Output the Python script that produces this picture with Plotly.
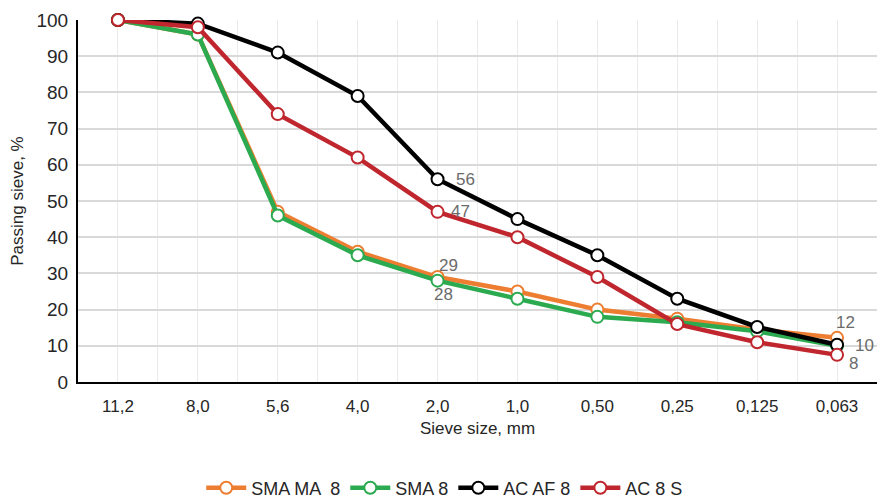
import plotly.graph_objects as go

categories = ["11,2", "8,0", "5,6", "4,0", "2,0", "1,0", "0,50", "0,25", "0,125", "0,063"]
sma_ma_8 = [100, 96, 47, 36, 29, 25, 20, 17.5, 14.5, 12.2]
sma_8 = [100, 96, 46, 35, 28, 23, 18, 16.5, 14, 10]
ac_af_8 = [100, 99, 91, 79, 56, 45, 35, 23, 15.2, 10.3]
ac_8_s = [100, 98, 74, 62, 47, 40, 29, 16, 11, 7.5]

# which points carry a data label (series name -> point indices)
labelled = {
    "SMA MA  8": [4, 9],
    "SMA 8": [4],
    "AC AF 8": [4, 9],
    "AC 8 S": [4, 9],
}
# label offsets in pixels (style only)
label_shift = {
    ("SMA MA  8", 4): (11, 12), ("SMA MA  8", 9): (8, 15),
    ("SMA 8", 4): (6, -14),
    ("AC AF 8", 4): (28, 0), ("AC AF 8", 9): (27, -1),
    ("AC 8 S", 4): (23, 0), ("AC 8 S", 9): (16, -9),
}

x = list(range(len(categories)))
FONT = "Liberation Sans, Arial, sans-serif"

series = [
    ("SMA MA  8", sma_ma_8, "#ED7D31"),
    ("SMA 8", sma_8, "#2BAA4F"),
    ("AC AF 8", ac_af_8, "#000000"),
    ("AC 8 S", ac_8_s, "#C0262D"),
]

fig = go.Figure()
annotations = []
for name, vals, col in series:
    fig.add_trace(go.Scatter(
        x=x, y=vals, name=name, mode="lines+markers",
        line=dict(color=col, width=4.5),
        marker=dict(symbol="circle", size=12, color="white",
                    line=dict(color=col, width=2)),
        cliponaxis=False,
    ))
    for i in labelled[name]:
        dx, dy = label_shift[(name, i)]
        annotations.append(dict(
            x=x[i], y=vals[i], xref="x", yref="y", text=f"{round(vals[i])}",
            showarrow=False, xshift=dx, yshift=dy,
            font=dict(family=FONT, size=17, color="#6b6b6b"),
        ))

# The page body has an 8px margin, so offsets below compensate for it.
fig.update_layout(
    width=888, height=499,
    margin=dict(l=70, r=19, t=12, b=125, autoexpand=False),
    paper_bgcolor="white", plot_bgcolor="white",
    font=dict(family=FONT, size=16, color="#262626"),
    showlegend=True,
    annotations=annotations,
    legend=dict(orientation="h", x=0.459, xanchor="center", y=-0.293, yanchor="middle",
                font=dict(family=FONT, size=18, color="#262626"),
                itemwidth=40, tracegroupgap=0),
    xaxis=dict(
        range=[-0.5, 9.5], tickmode="array", tickvals=x, ticktext=categories,
        showgrid=True, gridcolor="#ebebeb", gridwidth=1,
        minor=dict(tickmode="array", tickvals=[i + 0.5 for i in range(-1, 10)],
                   showgrid=True, gridcolor="#ebebeb", gridwidth=1),
        showline=True, linecolor="black", linewidth=2,
        ticks="", ticklabelstandoff=8, tickfont=dict(size=17, color="#262626"),
        title=dict(text="Sieve size, mm", font=dict(size=17, color="#262626"), standoff=7),
        zeroline=False, automargin=False,
    ),
    yaxis=dict(
        range=[0, 100], tickmode="linear", tick0=0, dtick=10,
        showgrid=True, gridcolor="#d9d9d9", gridwidth=1.5,
        showline=True, linecolor="black", linewidth=2,
        ticks="", ticklabelstandoff=4, tickfont=dict(size=19, color="#262626"),
        title=dict(text="Passing sieve, %", font=dict(size=17, color="#262626"), standoff=12),
        zeroline=False, automargin=False,
    ),
)

fig.write_html("out.html")
